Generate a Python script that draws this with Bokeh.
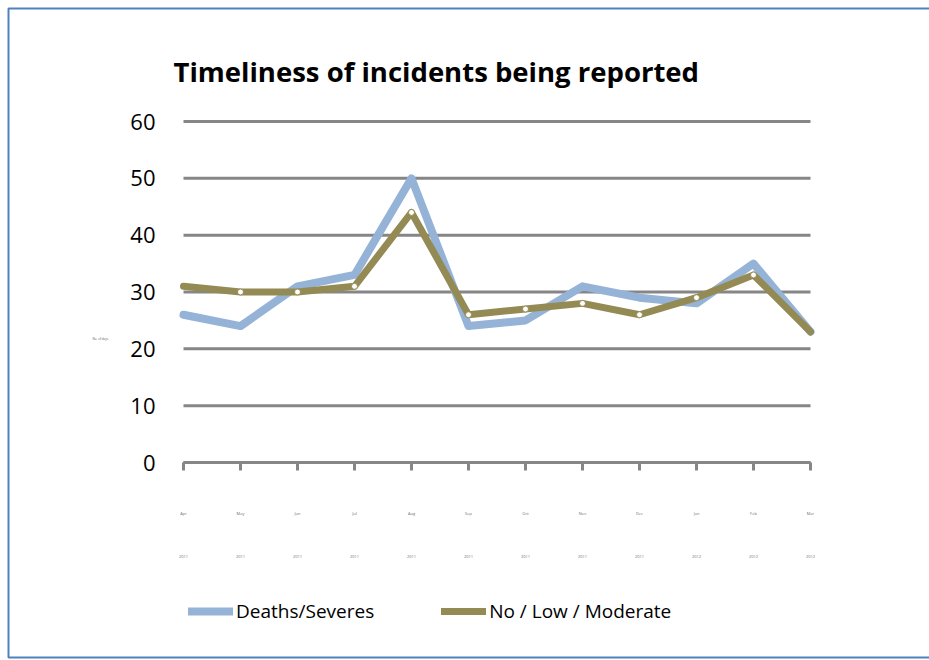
from bokeh.plotting import figure
from bokeh.models import (Range1d, FixedTicker, LinearAxis, Label, Legend,
                          LegendItem, BoxAnnotation)
from bokeh.embed import file_html
from bokeh.resources import INLINE

# Monthly reporting periods (two-row category labels under the axis)
positions = list(range(12))
months = ["Apr", "May", "Jun", "Jul", "Aug", "Sep", "Oct", "Nov", "Dec", "Jan", "Feb", "Mar"]
years = ["2011"] * 9 + ["2012"] * 3

# Series values
deaths_severes = [26, 24, 31, 33, 50, 24, 25, 31, 29, 28, 35, 23]
no_low_moderate = [31, 30, 30, 31, 44, 26, 27, 28, 26, 29, 33, 23]

y_ticks = [0, 10, 20, 30, 40, 50, 60]
y_caption = "No. of days"

FONT = "Open Sans"
GRID = "#868686"
BLUE = "#95B3D7"
OLIVE = "#948A54"
EDGE = "#4F81BD"

W, H = 929, 660
# The plotting area fills the whole canvas; the data block occupies
# x 183..810 px and y 121..462 px, everything else sits around it.
px_x = 57.0
px_y = 341.0 / 60.0
x_lo, x_hi = -183 / px_x, (W - 183) / px_x
y_lo, y_hi = -(H - 462) / px_y, 462 / px_y

p = figure(
    width=W, height=H,
    x_range=Range1d(x_lo, x_hi), y_range=Range1d(y_lo, y_hi),
    x_axis_type=None, y_axis_type=None,
    output_backend="svg", toolbar_location=None,
    min_border=0,
)
p.title.visible = False
p.outline_line_color = None
p.background_fill_color = "white"
p.border_fill_color = "white"
p.xgrid.visible = False
p.ygrid.visible = False

# Chart border
p.add_layout(BoxAnnotation(
    left=8, right=W + 20, bottom=H - 657, top=H - 8,
    left_units="screen", right_units="screen",
    bottom_units="screen", top_units="screen",
    fill_alpha=0, line_color=EDGE, line_alpha=1.0, line_width=2,
))

# Horizontal gridlines across the category span
p.segment(x0=[positions[0]] * len(y_ticks), x1=[positions[-1]] * len(y_ticks),
          y0=y_ticks, y1=y_ticks, line_color=GRID, line_width=3)

# Value axis
ax_y = LinearAxis(fixed_location=positions[0], ticker=FixedTicker(ticks=y_ticks))
ax_y.axis_line_color = None
ax_y.major_tick_line_color = None
ax_y.minor_tick_line_color = None
ax_y.major_label_standoff = 22
ax_y.major_label_text_font = FONT
ax_y.major_label_text_font_size = "22px"
ax_y.major_label_text_color = "#000000"
p.add_layout(ax_y, "left")

# Category axis: month row
ax_month = LinearAxis(
    fixed_location=0, bounds=(positions[0], positions[-1]),
    ticker=FixedTicker(ticks=positions),
    major_label_overrides={i: m for i, m in zip(positions, months)},
)
ax_month.axis_line_color = GRID
ax_month.axis_line_width = 3
ax_month.major_tick_line_color = GRID
ax_month.major_tick_line_width = 3
ax_month.major_tick_out = 8
ax_month.major_tick_in = 0
ax_month.minor_tick_line_color = None
ax_month.major_label_standoff = 40
ax_month.major_label_text_font = FONT
ax_month.major_label_text_font_size = "4px"
ax_month.major_label_text_color = "#707070"
p.add_layout(ax_month, "below")

# Category axis: year row
ax_year = LinearAxis(
    fixed_location=0, ticker=FixedTicker(ticks=positions),
    major_label_overrides={i: y for i, y in zip(positions, years)},
)
ax_year.axis_line_color = None
ax_year.major_tick_line_color = None
ax_year.minor_tick_line_color = None
ax_year.major_label_standoff = 86
ax_year.major_label_text_font = FONT
ax_year.major_label_text_font_size = "4px"
ax_year.major_label_text_color = "#707070"
p.add_layout(ax_year, "below")

# Series lines
r_ds = p.line(positions, deaths_severes, line_color=BLUE, line_width=8,
              line_join="round", line_cap="round")
r_nlm = p.line(positions, no_low_moderate, line_color=OLIVE, line_width=7,
               line_join="round", line_cap="round")
# Point markers on the inner months of the second series
p.scatter(positions[1:-1], no_low_moderate[1:-1], marker="circle", size=6,
          fill_color="white", line_color=OLIVE, line_width=1)

# Title
p.add_layout(Label(
    x=173, y=H - 71, x_units="screen", y_units="screen",
    text="Timeliness of incidents being reported",
    text_font=FONT, text_font_size="27.5px", text_font_style="bold",
    text_color="#000000", text_baseline="alphabetic",
))

# Small caption beside the value axis
p.add_layout(Label(
    x=92, y=H - 338, x_units="screen", y_units="screen",
    text=y_caption, text_font=FONT, text_font_size="3px",
    text_color="#606060", text_baseline="middle",
))

legend = Legend(
    items=[
        LegendItem(label="Deaths/Severes", renderers=[r_ds]),
        LegendItem(label="No / Low / Moderate", renderers=[r_nlm]),
    ],
    location=(188, H - 624), orientation="horizontal",
    glyph_width=45, glyph_height=20, label_standoff=3, spacing=67,
    padding=0, margin=0, border_line_color=None, background_fill_alpha=0,
    label_text_font=FONT, label_text_font_size="19px", label_text_color="#000000",
)
p.add_layout(legend, "center")

open("out.html", "w").write(file_html(p, INLINE))
